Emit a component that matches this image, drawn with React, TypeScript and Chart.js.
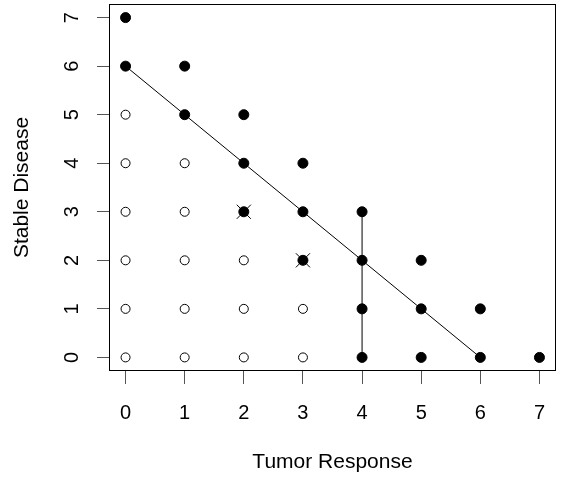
import React, { useEffect, useRef } from "react";
import { Chart, registerables } from "chart.js";

Chart.register(...registerables);

const xTicks = [0, 1, 2, 3, 4, 5, 6, 7];
const yTicks = [0, 1, 2, 3, 4, 5, 6, 7];

const openX = [0, 0, 0, 0, 0, 0, 1, 1, 1, 1, 1, 2, 2, 2, 3, 3];
const openY = [5, 4, 3, 2, 1, 0, 4, 3, 2, 1, 0, 2, 1, 0, 1, 0];

const filledX = [0, 0, 1, 1, 2, 2, 3, 2, 3, 4, 3, 4, 5, 4, 5, 6, 4, 5, 6, 7];
const filledY = [7, 6, 6, 5, 5, 4, 4, 3, 3, 3, 2, 2, 2, 1, 1, 1, 0, 0, 0, 0];

const crossX = [2, 3];
const crossY = [3, 2];

const diagX = [0, 6];
const diagY = [6, 0];

const vertX = [4, 4];
const vertY = [0, 3];

const FONT = "'Liberation Sans', Arial, sans-serif";

const zip = (xs: number[], ys: number[]) => xs.map((x, i) => ({ x, y: ys[i] }));

export default function App() {
  const ref = useRef<HTMLCanvasElement | null>(null);

  useEffect(() => {
    if (!ref.current) return;
    const boxPlugin = {
      id: "rbox",
      afterDraw(chart: any) {
        const { ctx, chartArea } = chart;
        ctx.save();
        ctx.strokeStyle = "#000";
        ctx.lineWidth = 1;
        ctx.strokeRect(
          Math.round(chartArea.left) + 0.5,
          Math.round(chartArea.top) + 0.5,
          Math.round(chartArea.right - chartArea.left) - 1,
          Math.round(chartArea.bottom - chartArea.top) - 1
        );
        const ys = chart.scales.y;
        ctx.fillStyle = "#000";
        ctx.font = `20px ${FONT}`;
        ctx.textAlign = "center";
        ctx.textBaseline = "middle";
        yTicks.forEach((v) => {
          const py = ys.getPixelForValue(v);
          ctx.save();
          ctx.translate(72, py);
          ctx.rotate(-Math.PI / 2);
          ctx.fillText(String(v), 0, 0);
          ctx.restore();
        });
        ctx.restore();
      },
    };

    const chart = new Chart(ref.current, {
      type: "scatter",
      data: {
        datasets: [
          {
            type: "line",
            data: zip(diagX, diagY),
            borderColor: "#000",
            borderWidth: 1,
            pointRadius: 0,
            fill: false,
          } as any,
          {
            type: "line",
            data: zip(vertX, vertY),
            borderColor: "#000",
            borderWidth: 1,
            pointRadius: 0,
            fill: false,
          } as any,
          {
            data: zip(openX, openY),
            pointStyle: "circle",
            pointRadius: 4.5,
            borderWidth: 1,
            borderColor: "#000",
            backgroundColor: "rgba(255,255,255,0)",
          },
          {
            data: zip(filledX, filledY),
            pointStyle: "circle",
            pointRadius: 5,
            borderWidth: 1,
            borderColor: "#000",
            backgroundColor: "#000",
          },
          {
            data: zip(crossX, crossY),
            pointStyle: "crossRot",
            pointRadius: 10,
            borderWidth: 1,
            borderColor: "#000",
            backgroundColor: "#000",
          },
        ],
      },
      options: {
        animation: false,
        responsive: false,
        events: [],
        layout: { autoPadding: false, padding: { left: 0, right: 8, top: 4, bottom: 0 } },
        plugins: { legend: { display: false }, tooltip: { enabled: false } },
        scales: {
          x: {
            type: "linear",
            min: -0.28,
            max: 7.28,
            afterBuildTicks: (s: any) => {
              s.ticks = xTicks.map((v) => ({ value: v }));
            },
            afterFit: (s: any) => {
              s.height = 108;
            },
            grid: {
              display: true,
              drawOnChartArea: false,
              drawTicks: true,
              tickLength: 13,
              color: "#555",
            },
            border: { display: false },
            ticks: {
              color: "#000",
              font: { family: FONT, size: 20 },
              padding: 17,
              maxRotation: 0,
              autoSkip: false,
            },
            title: {
              display: true,
              text: "Tumor Response",
              color: "#000",
              font: { family: FONT, size: 21 },
              padding: { top: 0, bottom: 4 },
            },
          },
          y: {
            type: "linear",
            min: -0.28,
            max: 7.28,
            afterBuildTicks: (s: any) => {
              s.ticks = yTicks.map((v) => ({ value: v }));
            },
            afterFit: (s: any) => {
              s.width = 109;
            },
            grid: {
              display: true,
              drawOnChartArea: false,
              drawTicks: true,
              tickLength: 12,
              color: "#555",
            },
            border: { display: false },
            ticks: { display: false },
            title: {
              display: true,
              text: "Stable Disease",
              color: "#000",
              font: { family: FONT, size: 21 },
              padding: { top: 10, bottom: 0 },
            },
          },
        },
      },
      plugins: [boxPlugin],
    } as any);
    return () => chart.destroy();
  }, []);

  return (
    <div style={{ position: "fixed", left: 0, top: 0, width: 564, height: 479, background: "#fff" }}>
      <canvas ref={ref} width={564} height={479} style={{ display: "block" }} />
    </div>
  );
}
